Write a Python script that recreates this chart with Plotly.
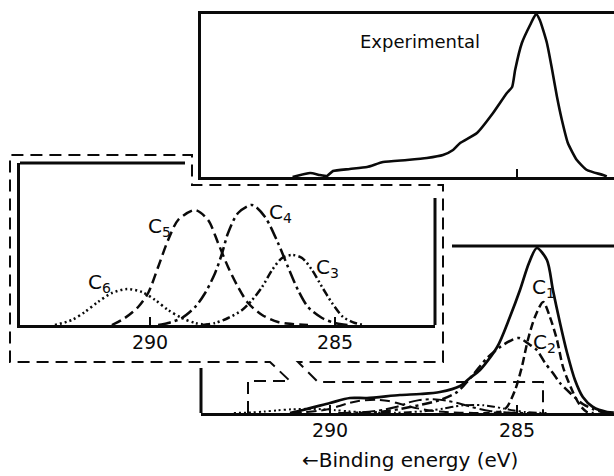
import plotly.graph_objects as go

# ---------------- data (binding energy in eV, intensity in arbitrary units) ----------------
# Experimental C 1s envelope (top panel)
exp_ev = [291.00, 290.53, 290.27, 290.08, 289.92, 289.47, 289.01, 288.58, 287.94, 287.41,
          286.98, 286.71, 286.52, 286.07, 285.64, 285.27, 285.13, 285.05, 284.87, 284.65,
          284.49, 284.39, 284.20, 284.06, 283.93, 283.80, 283.64, 283.40, 283.13, 282.70, 282.60]
exp_int = [0, 4, 2, 1, 6, 8, 10, 15, 17, 19,
           22, 27, 34, 44, 64, 84, 90, 107, 134, 152,
           163, 157, 134, 107, 80, 57, 34, 17, 7, 2, 0.5]

# Fitted envelope (bottom panel)
fit_ev = [291.07, 290.72, 290.00, 289.47, 289.01, 288.13, 287.59, 287.06, 286.52, 286.26,
          285.99, 285.53, 285.19, 284.92, 284.68, 284.47, 284.20, 284.04, 283.85, 283.66,
          283.45, 283.24, 282.97, 282.59, 282.41]
fit_int = [0, 3, 10, 15, 15, 18, 19, 21, 27, 35,
           43, 66, 96, 123, 150, 165, 153, 123, 90, 60,
           33, 16, 6, 1, 0.5]

# Main components
c1_ev = [285.62, 285.45, 285.27, 285.05, 284.87, 284.71, 284.52, 284.30, 284.12, 283.93,
         283.77, 283.53, 283.32, 283.13, 282.95]
c1_int = [0, 1, 6, 23, 46, 73, 96, 111, 96, 73, 46, 23, 8, 1, 0]

c2_ev = [289.20, 288.66, 288.13, 287.59, 287.06, 286.60, 286.18, 285.80, 285.45, 285.19,
         284.95, 284.65, 284.47, 284.25, 284.04, 283.85, 283.58, 283.24, 282.97, 282.65]
c2_int = [0, 1, 4, 8, 13, 21, 38, 55, 66, 72, 75, 68, 63, 50, 40, 30, 20, 9, 4, 0]

# Minor components (values on the magnified inset scale)
c3_ev = [288.59, 288.24, 287.89, 287.51, 287.24, 286.97, 286.70, 286.43, 286.16, 285.89,
         285.62, 285.35, 285.08, 284.78, 284.46, 284.19]
c3_int = [0, 2, 7, 15, 25, 38, 55, 67, 70, 67, 55, 38, 22, 8, 2, 0]

c4_ev = [289.78, 289.51, 289.14, 288.78, 288.51, 288.24, 288.05, 287.89, 287.62, 287.24,
         286.89, 286.54, 286.27, 286.00, 285.73, 285.35, 285.00, 284.65]
c4_int = [0, 2, 7, 18, 32, 52, 72, 92, 112, 120, 108, 82, 58, 35, 18, 7, 2, 0]

c5_ev = [291.03, 290.68, 290.32, 290.05, 289.78, 289.51, 289.24, 288.78, 288.43, 288.16,
         287.89, 287.62, 287.35, 286.97, 286.54, 286.16, 285.73]
c5_int = [0, 7, 18, 32, 58, 85, 105, 115, 105, 82, 58, 38, 22, 10, 3, 1, 0]

c6_ev = [292.57, 292.11, 291.76, 291.41, 291.03, 290.62, 290.22, 289.86, 289.51, 289.14,
         288.78, 288.43]
c6_int = [0, 5, 13, 23, 32, 36, 33, 25, 15, 7, 2, 0]

inset_gain = 8.7          # vertical magnification of the inset
tick_vals = [290, 285]
tick_text = ["290", "285"]

# ---------------- layout helpers (pixel -> paper) ----------------
W, H = 614, 476


def fx(p):
    return p / W


def fy(p):
    return 1 - p / H


INK = "#0a0a0a"
FONT = "DejaVu Sans"

DASH_C1 = "8px,4px"
DASH_C2 = "10px,4px,3px,4px"
DASH_C3 = "8px,3px,2px,3px,2px,3px"
DASH_C4 = "13px,4px,3px,4px"
DASH_C5 = "10px,5px"
DASH_C6 = "2px,3px"

fig = go.Figure()


def curve(x, y, xa, ya, dash="solid", width=2.5, smoothing=0.8):
    fig.add_trace(go.Scatter(
        x=x, y=y, xaxis=xa, yaxis=ya, mode="lines",
        line=dict(color=INK, width=width, dash=dash, shape="spline", smoothing=smoothing),
        hoverinfo="skip", showlegend=False))


# top panel: experimental
curve(exp_ev, exp_int, "x", "y", width=2.6, smoothing=0.5)

# bottom panel: envelope + components
curve(fit_ev, fit_int, "x2", "y2", width=2.7)
curve(c1_ev, c1_int, "x2", "y2", dash=DASH_C1)
curve(c2_ev, c2_int, "x2", "y2", dash=DASH_C2)
curve(c3_ev, c3_int, "x2", "y4", dash=DASH_C3, width=2)
curve(c4_ev, c4_int, "x2", "y4", dash=DASH_C4, width=2)
curve(c5_ev, c5_int, "x2", "y4", dash=DASH_C5, width=2)
curve(c6_ev, c6_int, "x2", "y4", dash=DASH_C6, width=2)

# inset: minor components magnified
curve(c3_ev, c3_int, "x3", "y3", dash=DASH_C3)
curve(c4_ev, c4_int, "x3", "y3", dash=DASH_C4)
curve(c5_ev, c5_int, "x3", "y3", dash=DASH_C5)
curve(c6_ev, c6_int, "x3", "y3", dash=DASH_C6)

main_range = [285 + (517 - 201) / 37.4, 285 - (614 - 517) / 37.4]
inset_range = [290 + (150 - 20) / 37.0, 285 - (435 - 335) / 37.0]

hidden_y = dict(showgrid=False, zeroline=False, showticklabels=False, ticks="",
                fixedrange=True)
base_x = dict(showgrid=False, zeroline=False, showline=True, linecolor=INK,
              linewidth=3, ticks="inside", ticklen=8, tickwidth=2, tickcolor=INK,
              tickvals=tick_vals, ticktext=tick_text, ticklabelstandoff=-2,
              tickfont=dict(family=FONT, size=19, color=INK))

fig.update_layout(
    width=W, height=H,
    margin=dict(l=0, r=0, t=0, b=0),
    paper_bgcolor="white", plot_bgcolor="rgba(0,0,0,0)",
    font=dict(family=FONT, color=INK),
    xaxis=dict(base_x, domain=[fx(201), 1], range=main_range, anchor="y",
               mirror=True, tickvals=[285], showticklabels=False),
    yaxis=dict(hidden_y, domain=[fy(177), fy(14)], range=[0, 163], anchor="x",
               showline=True, linecolor=INK, linewidth=3),
    xaxis2=dict(base_x, domain=[fx(201), 1], range=main_range, anchor="y2"),
    yaxis2=dict(hidden_y, domain=[fy(413), fy(246)], range=[0, 167], anchor="x2",
                showline=False),
    yaxis4=dict(hidden_y, overlaying="y2", range=[0, 167 * inset_gain], anchor="x2",
                showline=False),
    xaxis3=dict(base_x, domain=[fx(20), fx(435)], range=inset_range, anchor="y3"),
    yaxis3=dict(hidden_y, domain=[fy(325), fy(163)], range=[0, 162], anchor="x3",
                showline=True, linecolor=INK, linewidth=3),
)


def path(points):
    s = "M {:.5f} {:.5f}".format(fx(points[0][0]), fy(points[0][1]))
    for p in points[1:]:
        s += " L {:.5f} {:.5f}".format(fx(p[0]), fy(p[1]))
    return s


shapes = []
# dashed call-out linking the bottom-panel window to the inset
callout = [(248, 413), (248, 381), (290, 381), (270, 362), (10, 362), (10, 155),
           (192, 155), (192, 185), (443, 185), (443, 362), (298, 362), (318, 382),
           (543, 382), (543, 413)]
shapes.append(dict(type="path", xref="paper", yref="paper", path=path(callout),
                   line=dict(color=INK, width=2, dash="12px,7px")))

# partial solid frame edges
solid_edges = [
    [(20, 163), (185, 163)],      # inset top
    [(435, 198), (435, 325)],     # inset right
    [(201, 368), (201, 413)],     # bottom panel left
    [(452, 246), (614, 246)],     # bottom panel top
]
for seg in solid_edges:
    shapes.append(dict(type="path", xref="paper", yref="paper", path=path(seg),
                       line=dict(color=INK, width=3)))
fig.update_layout(shapes=shapes)


def label(text, x, y, size=20, xanchor="left"):
    fig.add_annotation(text=text, x=fx(x), y=fy(y), xref="paper", yref="paper",
                       showarrow=False, xanchor=xanchor, yanchor="middle",
                       font=dict(family=FONT, size=size, color=INK))


label("Experimental", 420, 41, size=18, xanchor="center")
label("C<sub>5</sub>", 146, 227)
label("C<sub>4</sub>", 267, 213)
label("C<sub>3</sub>", 314, 268)
label("C<sub>6</sub>", 86, 283)
label("C<sub>1</sub>", 530, 288)
label("C<sub>2</sub>", 531, 343)
label("\u2190Binding energy (eV)", 410, 460, size=20, xanchor="center")

fig.write_html("out.html")
